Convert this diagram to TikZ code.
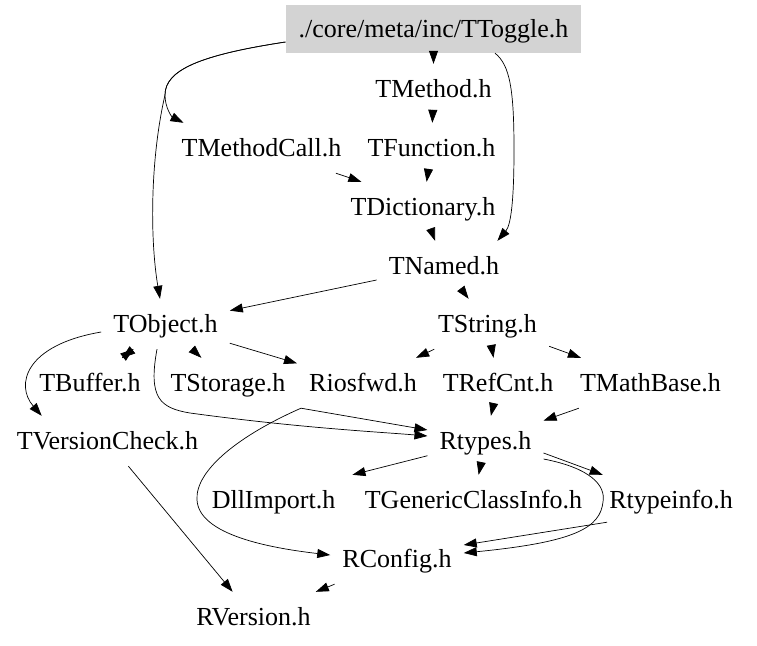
\documentclass[tikz,border=0pt]{standalone}
\usepackage{fontspec}
\setmainfont{Liberation Serif}
\usetikzlibrary{arrows.meta}
\definecolor{boxgray}{RGB}{211,211,211}

\begin{document}
\begin{tikzpicture}[x=1pt, y=-1pt,
    file/.style={inner xsep=12pt, inner ysep=0pt, minimum height=50pt,
      text height=22pt, text depth=5pt, font=\fontsize{26pt}{30pt}\selectfont},
    dep/.style={-{Triangle[length=13pt,width=9pt]}, line width=.7pt}]
             \fill[white] (0,0) rectangle (757,645);

             \node[file, fill=boxgray, inner xsep=13pt, minimum height=48pt] (toggle) at (433.5, 29) {./core/meta/inc/TToggle.h};
             \node[file] (method) at (433.5, 89) {TMethod.h};
             \node[file] (methodcall) at (261.5, 148) {TMethodCall.h};
             \node[file] (function) at (431.5, 148) {TFunction.h};
             \node[file] (dictionary) at (423, 207) {TDictionary.h};
             \node[file] (named) at (444, 266) {TNamed.h};
             \node[file] (object) at (165.5, 324) {TObject.h};
             \node[file] (string) at (487.5, 324) {TString.h};
             \node[file] (buffer) at (90, 383) {TBuffer.h};
             \node[file] (storage) at (228, 383) {TStorage.h};
             \node[file] (iosfwd) at (363, 383) {Riosfwd.h};
             \node[file] (refcnt) at (498, 383) {TRefCnt.h};
             \node[file] (mathbase) at (650.5, 383) {TMathBase.h};
             \node[file] (versioncheck) at (107.5, 441) {TVersionCheck.h};
             \node[file] (rtypes) at (485.5, 441) {Rtypes.h};
             \node[file] (dllimport) at (273.5, 500) {DllImport.h};
             \node[file] (classinfo) at (473.5, 500) {TGenericClassInfo.h};
             \node[file] (rtypeinfo) at (671, 500) {Rtypeinfo.h};
             \node[file] (rconfig) at (397, 559) {RConfig.h};
             \node[file] (rversion) at (253.5, 617) {RVersion.h};

             \draw[dep] (toggle) -- (method);
             \draw[dep] ([yshift=-13pt]toggle.west) .. controls (200,55) and (165,70) .. (165,95)
                 .. controls (165,108) and (172,117) .. ([xshift=14pt]methodcall.north west);
             \draw[dep] ([yshift=-13pt]toggle.west) .. controls (200,55) and (165,70) .. (165,95)
                 .. controls (150,160) and (150,240) .. ([xshift=-5.5pt]object.north);
             \draw[dep] ([xshift=61.5pt]toggle.south) .. controls (510,65) and (514,90) .. (514,150)
                 .. controls (514,200) and (511,225) .. ([xshift=-14pt]named.north east);
             \draw[dep] (method) -- (function);
             \draw[dep] (methodcall) -- ([xshift=23pt]dictionary.north west);
             \draw[dep] (function) -- (dictionary);
             \draw[dep] (dictionary) -- (named);

             \draw[dep] (named) -- (object);
             \draw[dep] (named) -- (string);
             \draw[dep] ([yshift=-8pt]object.west) .. controls (25,345) and (15,385) .. ([xshift=37pt]versioncheck.north west);
             \draw[dep] (object) -- (buffer);
             \draw[dep] (buffer) -- (object);
             \draw[dep] (object) -- (storage);
             \draw[dep] (object) -- (iosfwd);
             \draw[dep] ([xshift=-8.5pt]object.south) .. controls (148,398) and (160,408) .. (190,413)
                 .. controls (300,428) and (380,432) .. ([yshift=5pt]rtypes.west);
             \draw[dep] (string) -- (iosfwd);
             \draw[dep] (string) -- (refcnt);
             \draw[dep] (string) -- (mathbase);

             \draw[dep] ([xshift=4pt]iosfwd.south west) -- ([yshift=11pt]rtypes.west);
             \draw[dep] ([xshift=4pt]iosfwd.south west) .. controls (240,435) and (195,470) .. (197,500)
                 .. controls (199,535) and (270,548) .. ([yshift=4pt]rconfig.west);
             \draw[dep] (refcnt) -- (rtypes);
             \draw[dep] (mathbase) -- (rtypes);
             \draw[dep] (rtypes) -- ([xshift=5pt]dllimport.north east);
             \draw[dep] (rtypes) -- (classinfo);
             \draw[dep] ([yshift=-12pt]rtypes.east) -- (rtypeinfo);
             \draw[dep] ([yshift=-18pt]rtypes.east) .. controls (590,468) and (606,485) .. (603,502)
                 .. controls (600,528) and (575,542) .. ([yshift=6pt]rconfig.east);
             \draw[dep] ([xshift=10pt,yshift=3pt]rtypeinfo.south west) -- ([yshift=14pt]rconfig.east);

             \draw[dep] (versioncheck) -- (rversion);
             \draw[dep] (rconfig) -- (rversion);
\end{tikzpicture}
\end{document}
